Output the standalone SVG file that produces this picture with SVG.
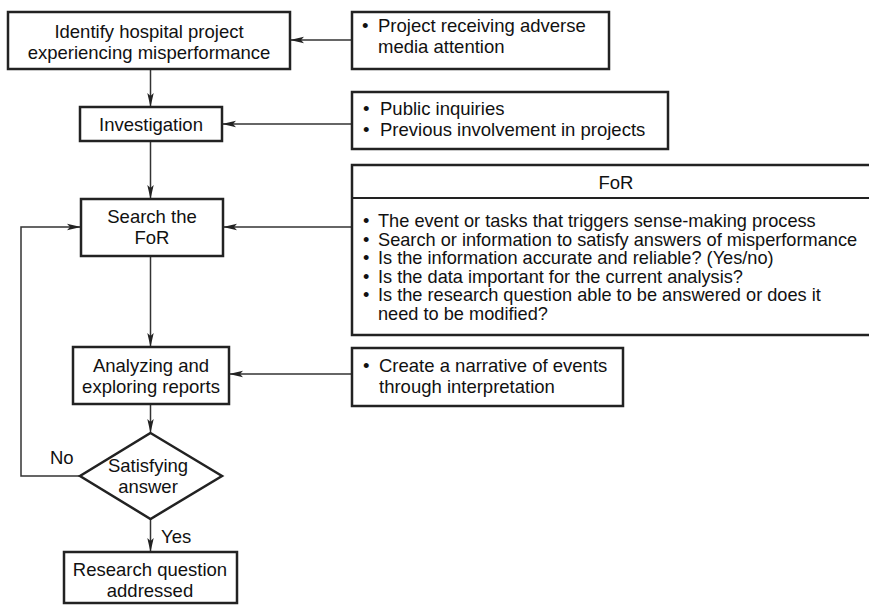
<svg xmlns="http://www.w3.org/2000/svg" width="869" height="609" viewBox="0 0 869 609">
<style>
.box{fill:#fff;stroke:#222;stroke-width:2.5}
.t{font-family:"Liberation Sans",Arial,sans-serif;font-size:18.5px;fill:#111}
.f{font-size:18.2px}
.c{text-anchor:middle}
.ln{fill:none;stroke:#333;stroke-width:1.5}
</style>
<defs>
<marker id="ah" markerWidth="14" markerHeight="8" refX="13" refY="4" orient="auto" markerUnits="userSpaceOnUse">
<path d="M0,0.8 L14,4 L0,7.2 L3,4 Z" fill="#222"/>
</marker>
</defs>
<rect width="869" height="609" fill="#fff"/>
<g id="connectors">
<line class="ln" x1="352" y1="40" x2="291" y2="40" marker-end="url(#ah)"/>
<line class="ln" x1="352" y1="124" x2="223" y2="124" marker-end="url(#ah)"/>
<line class="ln" x1="352" y1="227" x2="224" y2="227" marker-end="url(#ah)"/>
<line class="ln" x1="352" y1="374" x2="230" y2="374" marker-end="url(#ah)"/>
<line class="ln" x1="150.5" y1="69" x2="150.5" y2="106" marker-end="url(#ah)"/>
<line class="ln" x1="150.5" y1="141" x2="150.5" y2="198" marker-end="url(#ah)"/>
<line class="ln" x1="150.5" y1="256" x2="150.5" y2="346" marker-end="url(#ah)"/>
<line class="ln" x1="150.5" y1="404" x2="150.5" y2="432" marker-end="url(#ah)"/>
<line class="ln" x1="150.5" y1="519" x2="150.5" y2="551" marker-end="url(#ah)"/>
<polyline class="ln" points="80,476 21,476 21,227 80,227" marker-end="url(#ah)"/>
<text class="t" x="50" y="464">No</text>
<text class="t" x="161" y="543">Yes</text>
</g>
<g id="identify">
<rect class="box" x="8" y="12" width="282" height="57"/>
<text class="t c" x="149" y="38">Identify hospital project</text>
<text class="t c" x="149" y="59">experiencing misperformance</text>
</g>
<g id="media">
<rect class="box" x="352" y="12" width="257" height="57"/>
<text class="t" y="32"><tspan x="362">•</tspan><tspan x="378">Project receiving adverse</tspan></text>
<text class="t" x="378" y="53">media attention</text>
</g>
<g id="investigation">
<rect class="box" x="80" y="107" width="142" height="34"/>
<text class="t c" x="151" y="131">Investigation</text>
</g>
<g id="inquiries">
<rect class="box" x="352" y="92" width="316" height="57"/>
<text class="t" y="115"><tspan x="363">•</tspan><tspan x="380">Public inquiries</tspan></text>
<text class="t" y="136"><tspan x="363">•</tspan><tspan x="380">Previous involvement in projects</tspan></text>
</g>
<g id="search">
<rect class="box" x="81" y="199" width="142" height="57"/>
<text class="t c" x="152" y="223">Search the</text>
<text class="t c" x="152" y="244">FoR</text>
</g>
<g id="for">
<rect class="box" x="352" y="165" width="530" height="170"/>
<line x1="352" y1="198" x2="882" y2="198" stroke="#222" stroke-width="2"/>
<text class="t c" x="616" y="189">FoR</text>
<text class="t f" y="227"><tspan x="363">•</tspan><tspan x="378">The event or tasks that triggers sense-making process</tspan></text>
<text class="t f" y="245.5"><tspan x="363">•</tspan><tspan x="378">Search or information to satisfy answers of misperformance</tspan></text>
<text class="t f" y="264"><tspan x="363">•</tspan><tspan x="378">Is the information accurate and reliable? (Yes/no)</tspan></text>
<text class="t f" y="282.5"><tspan x="363">•</tspan><tspan x="378">Is the data important for the current analysis?</tspan></text>
<text class="t f" y="301"><tspan x="363">•</tspan><tspan x="378">Is the research question able to be answered or does it</tspan></text>
<text class="t f" x="378" y="319.5">need to be modified?</text>
</g>
<g id="analyzing">
<rect class="box" x="73" y="347" width="156" height="57"/>
<text class="t c" x="151" y="372">Analyzing and</text>
<text class="t c" x="151" y="393">exploring reports</text>
</g>
<g id="narrative">
<rect class="box" x="352" y="348" width="271" height="58"/>
<text class="t" y="372"><tspan x="363">•</tspan><tspan x="379">Create a narrative of events</tspan></text>
<text class="t" x="379" y="393">through interpretation</text>
</g>
<g id="satisfying">
<polygon class="box" points="150.5,433 222,476 150.5,519 80,476"/>
<text class="t c" x="148" y="472">Satisfying</text>
<text class="t c" x="148" y="493">answer</text>
</g>
<g id="addressed">
<rect class="box" x="64" y="552" width="173" height="51"/>
<text class="t c" x="150" y="576">Research question</text>
<text class="t c" x="150" y="597">addressed</text>
</g>
</svg>
